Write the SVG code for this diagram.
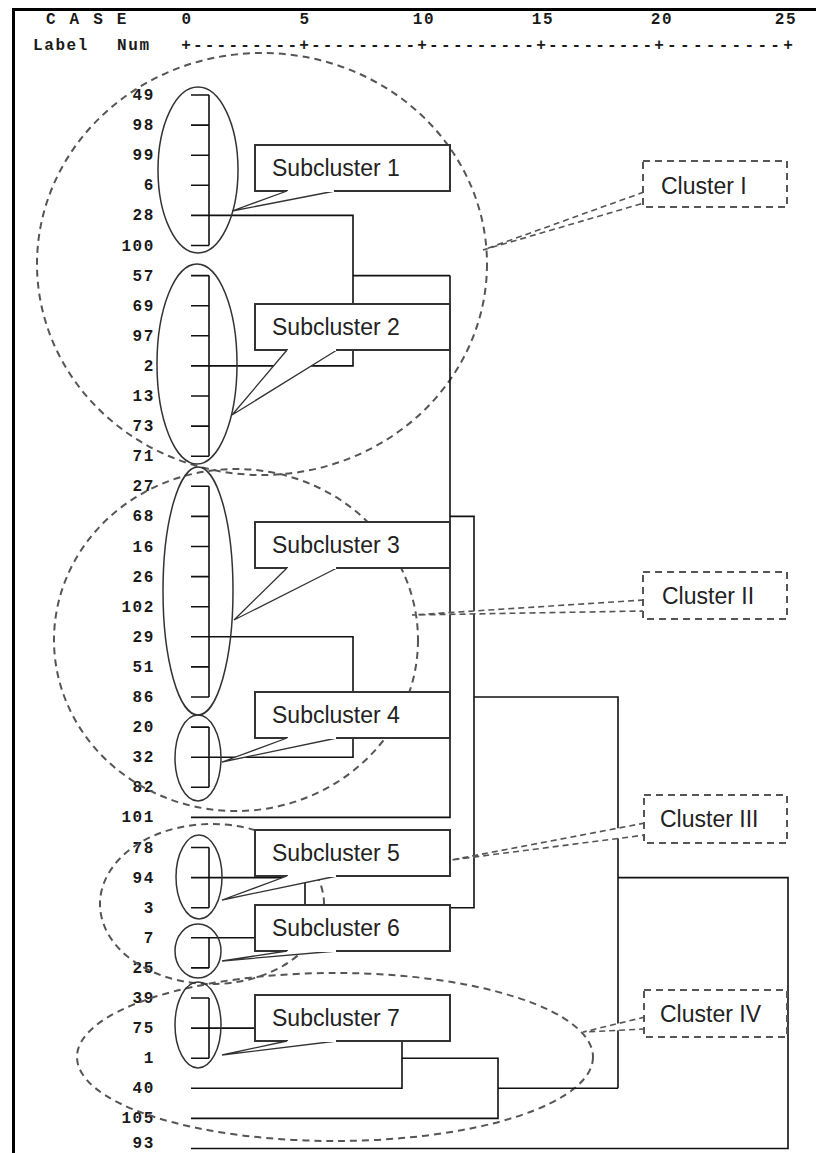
<svg xmlns="http://www.w3.org/2000/svg" width="816" height="1153" viewBox="0 0 816 1153">
<style>
.mono{font-family:"Liberation Mono","DejaVu Sans Mono",monospace;font-size:16px;font-weight:bold;fill:#1a1a1a;letter-spacing:1.6px}
.lbl{text-anchor:end}
.box{fill:#fff;stroke:#333;stroke-width:2}
.ptr{fill:#fff;stroke:#333;stroke-width:1.3;stroke-linejoin:miter}
.sub{fill:none;stroke:#333;stroke-width:1.5}
.clu{fill:none;stroke:#555;stroke-width:2;stroke-dasharray:7 5}
.cbox{fill:#fff;stroke:#555;stroke-width:2;stroke-dasharray:7 5}
.cptr{fill:#fff;stroke:#555;stroke-width:1.6;stroke-dasharray:6 4}
.txt{font-family:"Liberation Sans",Arial,sans-serif;font-size:23px;fill:#222}
.den{fill:none;stroke:#111;stroke-width:1.6}
</style>
<rect x="0" y="0" width="816" height="1153" fill="#fff"/>
<g id="frame">
<path d="M13.5 8 V1153 M12 9.5 H816" fill="none" stroke="#000" stroke-width="3"/>
</g>
<g id="header" class="mono">
<text x="46" y="24" style="letter-spacing:2.2px">C A S E</text>
<text x="187" y="24" text-anchor="middle">0</text>
<text x="305" y="24" text-anchor="middle">5</text>
<text x="424" y="24" text-anchor="middle">10</text>
<text x="543" y="24" text-anchor="middle">15</text>
<text x="662" y="24" text-anchor="middle">20</text>
<text x="786" y="24" text-anchor="middle">25</text>
<text x="33" y="50">Label</text>
<text x="117" y="50">Num</text>
<text x="181.2" y="50" style="letter-spacing:2.2px">+---------</text>
<text x="299.2" y="50" style="letter-spacing:2.2px">+---------</text>
<text x="417.2" y="50" style="letter-spacing:2.3px">+---------</text>
<text x="536.2" y="50" style="letter-spacing:2.2px">+---------</text>
<text x="654.2" y="50" style="letter-spacing:3.3px">+---------</text>
<text x="783.2" y="50">+</text>
</g>
<g id="case-labels" class="mono lbl">
<text x="155" y="100">49</text>
<text x="155" y="130.1">98</text>
<text x="155" y="160.2">99</text>
<text x="155" y="190.3">6</text>
<text x="155" y="220.4">28</text>
<text x="155" y="250.5">100</text>
<text x="155" y="280.6">57</text>
<text x="155" y="310.7">69</text>
<text x="155" y="340.8">97</text>
<text x="155" y="370.9">2</text>
<text x="155" y="401">13</text>
<text x="155" y="431.1">73</text>
<text x="155" y="461.2">71</text>
<text x="155" y="491.3">27</text>
<text x="155" y="521.4">68</text>
<text x="155" y="551.5">16</text>
<text x="155" y="581.6">26</text>
<text x="155" y="611.7">102</text>
<text x="155" y="641.8">29</text>
<text x="155" y="671.9">51</text>
<text x="155" y="702">86</text>
<text x="155" y="732.1">20</text>
<text x="155" y="762.2">32</text>
<text x="155" y="792.3">82</text>
<text x="155" y="822.4">101</text>
<text x="155" y="852.5">78</text>
<text x="155" y="882.6">94</text>
<text x="155" y="912.7">3</text>
<text x="155" y="942.8">7</text>
<text x="155" y="972.9">25</text>
<text x="155" y="1003">39</text>
<text x="155" y="1033.1">75</text>
<text x="155" y="1063.2">1</text>
<text x="155" y="1093.3">40</text>
<text x="155" y="1123.4">105</text>
<text x="155" y="1148">93</text>
</g>
<g id="cluster-ellipses">
<ellipse id="cluster-I-ring" class="clu" cx="262" cy="264" rx="225" ry="211"/>
<ellipse id="cluster-II-ring" class="clu" cx="236" cy="640" rx="182" ry="171"/>
<ellipse id="cluster-III-ring" class="clu" cx="212" cy="904" rx="112" ry="80"/>
<ellipse id="cluster-IV-ring" class="clu" cx="335" cy="1057" rx="258" ry="84"/>
</g>
<g id="connectors" class="den">
<path d="M191 95H209M191 125.1H209M191 155.2H209M191 185.3H209M191 245.5H209M209 95V245.5"/>
<path d="M191 275.6H209M191 305.7H209M191 335.8H209M191 396H209M191 426.1H209M191 456.2H209M209 275.6V456.2"/>
<path d="M191 486.3H209M191 516.4H209M191 546.5H209M191 576.6H209M191 606.7H209M191 666.9H209M191 697H209M209 486.3V697"/>
<path d="M191 727.1H209M191 787.3H209M209 727.1V787.3"/>
<path d="M191 847.5H209M191 907.7H209M209 847.5V907.7"/>
<path d="M191 967.9H209M209 937.8V967.9"/>
<path d="M191 998H209M191 1058.2H209M209 998V1058.2"/>
<path d="M191 215.4H353V365.9H191M353 275.6H450"/>
<path d="M191 636.8H353V757.2H191M353 697H450"/>
<path d="M450 275.6V817.4H191M450 516.4H474V907.7H305"/>
<path d="M191 877.6H305V937.8H191"/>
<path d="M474 697H618V1088.3"/>
<path d="M618 877.6H788V1148.5H191"/>
<path d="M191 1028.1H402V1088.3H191M402 1058.2H498V1118.4H191M498 1088.3H618"/>
</g>
<g id="subcluster-1">
<ellipse class="sub" cx="198" cy="170" rx="40" ry="83"/>
<rect class="box" x="255" y="145" width="195" height="46"/>
<path class="ptr" d="M287 191 L232 211 L335 191"/>
<path d="M288 191H334" stroke="#fff" stroke-width="2.2"/>
<text class="txt" x="272" y="176">Subcluster 1</text>
</g>
<g id="subcluster-2">
<ellipse class="sub" cx="197" cy="364" rx="40" ry="100"/>
<rect class="box" x="255" y="304" width="195" height="46"/>
<path class="ptr" d="M287 350 L232 415 L337 350"/>
<path d="M288 350H336" stroke="#fff" stroke-width="2.2"/>
<text class="txt" x="272" y="335">Subcluster 2</text>
</g>
<g id="subcluster-3">
<ellipse class="sub" cx="198" cy="591" rx="35" ry="124"/>
<rect class="box" x="255" y="522" width="195" height="46"/>
<path class="ptr" d="M287 568 L234 620 L337 568"/>
<path d="M288 568H336" stroke="#fff" stroke-width="2.2"/>
<text class="txt" x="272" y="553">Subcluster 3</text>
</g>
<g id="subcluster-4">
<ellipse class="sub" cx="198" cy="758" rx="23" ry="43"/>
<rect class="box" x="255" y="692" width="195" height="46"/>
<path class="ptr" d="M287 738 L222 762 L337 738"/>
<path d="M288 738H336" stroke="#fff" stroke-width="2.2"/>
<text class="txt" x="272" y="723">Subcluster 4</text>
</g>
<g id="subcluster-5">
<ellipse class="sub" cx="199" cy="877" rx="23" ry="42"/>
<rect class="box" x="255" y="830" width="195" height="46"/>
<path class="ptr" d="M287 876 L222 900 L337 876"/>
<path d="M288 876H336" stroke="#fff" stroke-width="2.2"/>
<text class="txt" x="272" y="861">Subcluster 5</text>
</g>
<g id="subcluster-6">
<ellipse class="sub" cx="198" cy="951" rx="23" ry="27"/>
<rect class="box" x="255" y="905" width="195" height="46"/>
<path class="ptr" d="M287 951 L222 961 L337 951"/>
<path d="M288 951H336" stroke="#fff" stroke-width="2.2"/>
<text class="txt" x="272" y="936">Subcluster 6</text>
</g>
<g id="subcluster-7">
<ellipse class="sub" cx="198" cy="1025" rx="23" ry="43"/>
<rect class="box" x="255" y="995" width="195" height="46"/>
<path class="ptr" d="M287 1041 L222 1055 L337 1041"/>
<path d="M288 1041H336" stroke="#fff" stroke-width="2.2"/>
<text class="txt" x="272" y="1026">Subcluster 7</text>
</g>
<g id="cluster-I">
<path class="cptr" d="M644 192 L483 250 L644 203"/>
<rect class="cbox" x="643" y="161" width="144" height="46"/>
<text class="txt" x="661" y="194">Cluster I</text>
</g>
<g id="cluster-II">
<path class="cptr" d="M644 600 L412 615 L644 611"/>
<rect class="cbox" x="643" y="572" width="144" height="47"/>
<text class="txt" x="662" y="604">Cluster II</text>
</g>
<g id="cluster-III">
<path class="cptr" d="M645 823 L451 860 L645 835"/>
<rect class="cbox" x="644" y="795" width="143" height="48"/>
<text class="txt" x="660" y="827">Cluster III</text>
</g>
<g id="cluster-IV">
<path class="cptr" d="M645 1017 L583 1032 L645 1029"/>
<rect class="cbox" x="644" y="990" width="143" height="47"/>
<text class="txt" x="660" y="1022">Cluster IV</text>
</g>
</svg>
